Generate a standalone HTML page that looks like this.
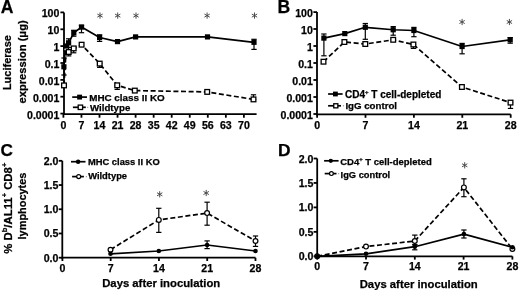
<!DOCTYPE html>
<html><head><meta charset="utf-8"><style>
html,body{margin:0;padding:0;background:#fff;overflow:hidden;width:520px;height:290px;}
svg{display:block;will-change:transform;}
text{font-family:"Liberation Sans", sans-serif;font-weight:bold;fill:#000;stroke:#000;stroke-width:0.25px;}
</style></head><body>
<svg width="520" height="290" viewBox="0 0 520 290">
<rect width="520" height="290" fill="#fff"/>
<text x="0.80" y="13.40" font-size="17.6" text-anchor="start">A</text>
<line x1="64.00" y1="12.40" x2="64.00" y2="115.10" stroke="#000" stroke-width="1.8"/>
<line x1="60.40" y1="12.40" x2="64.00" y2="12.40" stroke="#000" stroke-width="1.8"/>
<text x="59.40" y="17.40" font-size="10.6" text-anchor="end">100</text>
<line x1="60.40" y1="29.30" x2="64.00" y2="29.30" stroke="#000" stroke-width="1.8"/>
<text x="59.40" y="34.30" font-size="10.6" text-anchor="end">10</text>
<line x1="60.40" y1="46.10" x2="64.00" y2="46.10" stroke="#000" stroke-width="1.8"/>
<text x="59.40" y="51.10" font-size="10.6" text-anchor="end">1</text>
<line x1="60.40" y1="63.00" x2="64.00" y2="63.00" stroke="#000" stroke-width="1.8"/>
<text x="59.40" y="68.00" font-size="10.6" text-anchor="end">0.1</text>
<line x1="60.40" y1="79.90" x2="64.00" y2="79.90" stroke="#000" stroke-width="1.8"/>
<text x="59.40" y="84.90" font-size="10.6" text-anchor="end">0.01</text>
<line x1="60.40" y1="96.70" x2="64.00" y2="96.70" stroke="#000" stroke-width="1.8"/>
<text x="59.40" y="101.70" font-size="10.6" text-anchor="end">0.001</text>
<line x1="60.40" y1="113.60" x2="64.00" y2="113.60" stroke="#000" stroke-width="1.8"/>
<text x="59.40" y="118.60" font-size="10.6" text-anchor="end">0.0001</text>
<line x1="63.10" y1="114.20" x2="256.60" y2="114.20" stroke="#000" stroke-width="1.8"/>
<line x1="63.40" y1="114.20" x2="63.40" y2="117.70" stroke="#000" stroke-width="1.8"/>
<text x="63.40" y="129.30" font-size="10.6" text-anchor="middle">0</text>
<line x1="81.45" y1="114.20" x2="81.45" y2="117.70" stroke="#000" stroke-width="1.8"/>
<text x="81.45" y="129.30" font-size="10.6" text-anchor="middle">7</text>
<line x1="99.50" y1="114.20" x2="99.50" y2="117.70" stroke="#000" stroke-width="1.8"/>
<text x="99.50" y="129.30" font-size="10.6" text-anchor="middle">14</text>
<line x1="117.55" y1="114.20" x2="117.55" y2="117.70" stroke="#000" stroke-width="1.8"/>
<text x="117.55" y="129.30" font-size="10.6" text-anchor="middle">21</text>
<line x1="135.60" y1="114.20" x2="135.60" y2="117.70" stroke="#000" stroke-width="1.8"/>
<text x="135.60" y="129.30" font-size="10.6" text-anchor="middle">28</text>
<line x1="153.65" y1="114.20" x2="153.65" y2="117.70" stroke="#000" stroke-width="1.8"/>
<text x="153.65" y="129.30" font-size="10.6" text-anchor="middle">35</text>
<line x1="171.70" y1="114.20" x2="171.70" y2="117.70" stroke="#000" stroke-width="1.8"/>
<text x="171.70" y="129.30" font-size="10.6" text-anchor="middle">42</text>
<line x1="189.75" y1="114.20" x2="189.75" y2="117.70" stroke="#000" stroke-width="1.8"/>
<text x="189.75" y="129.30" font-size="10.6" text-anchor="middle">49</text>
<line x1="207.80" y1="114.20" x2="207.80" y2="117.70" stroke="#000" stroke-width="1.8"/>
<text x="207.80" y="129.30" font-size="10.6" text-anchor="middle">56</text>
<line x1="225.85" y1="114.20" x2="225.85" y2="117.70" stroke="#000" stroke-width="1.8"/>
<text x="225.85" y="129.30" font-size="10.6" text-anchor="middle">63</text>
<line x1="243.90" y1="114.20" x2="243.90" y2="117.70" stroke="#000" stroke-width="1.8"/>
<text x="243.90" y="129.30" font-size="10.6" text-anchor="middle">70</text>
<text transform="translate(10.6,62.6) rotate(-90)" font-size="11" text-anchor="middle">Luciferase</text>
<text transform="translate(25.8,61.9) rotate(-90)" font-size="11.2" text-anchor="middle">expression (μg)</text>
<polyline points="64.00,85.40 66.20,48.50 68.70,52.00 73.70,48.40 81.60,44.70 99.70,63.60 117.20,85.30 134.80,90.60 207.20,91.90 253.50,99.40" fill="none" stroke="#000" stroke-width="1.7" stroke-linejoin="round" stroke-dasharray="5,2.6"/>
<polyline points="63.90,66.80 65.60,46.00 68.60,42.80 73.80,32.80 81.50,27.10 99.60,37.50 117.50,41.60 135.60,36.90 207.50,36.90 254.00,42.30" fill="none" stroke="#000" stroke-width="1.7" stroke-linejoin="round"/>
<line x1="81.50" y1="25.30" x2="81.50" y2="32.70" stroke="#000" stroke-width="1.2"/>
<line x1="78.85" y1="25.30" x2="84.15" y2="25.30" stroke="#000" stroke-width="1.2"/>
<line x1="78.85" y1="32.70" x2="84.15" y2="32.70" stroke="#000" stroke-width="1.2"/>
<line x1="73.80" y1="30.30" x2="73.80" y2="36.20" stroke="#000" stroke-width="1.2"/>
<line x1="71.15" y1="30.30" x2="76.45" y2="30.30" stroke="#000" stroke-width="1.2"/>
<line x1="71.15" y1="36.20" x2="76.45" y2="36.20" stroke="#000" stroke-width="1.2"/>
<line x1="99.60" y1="34.80" x2="99.60" y2="41.40" stroke="#000" stroke-width="1.2"/>
<line x1="96.95" y1="34.80" x2="102.25" y2="34.80" stroke="#000" stroke-width="1.2"/>
<line x1="96.95" y1="41.40" x2="102.25" y2="41.40" stroke="#000" stroke-width="1.2"/>
<line x1="254.00" y1="39.30" x2="254.00" y2="49.40" stroke="#000" stroke-width="1.2"/>
<line x1="251.35" y1="39.30" x2="256.65" y2="39.30" stroke="#000" stroke-width="1.2"/>
<line x1="251.35" y1="49.40" x2="256.65" y2="49.40" stroke="#000" stroke-width="1.2"/>
<line x1="253.50" y1="94.80" x2="253.50" y2="99.40" stroke="#000" stroke-width="1.2"/>
<line x1="250.85" y1="94.80" x2="256.15" y2="94.80" stroke="#000" stroke-width="1.2"/>
<line x1="250.85" y1="99.40" x2="256.15" y2="99.40" stroke="#000" stroke-width="1.2"/>
<line x1="117.20" y1="85.30" x2="117.20" y2="89.40" stroke="#000" stroke-width="1.2"/>
<line x1="114.55" y1="85.30" x2="119.85" y2="85.30" stroke="#000" stroke-width="1.2"/>
<line x1="114.55" y1="89.40" x2="119.85" y2="89.40" stroke="#000" stroke-width="1.2"/>
<line x1="99.70" y1="63.60" x2="99.70" y2="67.40" stroke="#000" stroke-width="1.2"/>
<line x1="97.05" y1="63.60" x2="102.35" y2="63.60" stroke="#000" stroke-width="1.2"/>
<line x1="97.05" y1="67.40" x2="102.35" y2="67.40" stroke="#000" stroke-width="1.2"/>
<line x1="68.70" y1="52.00" x2="68.70" y2="55.90" stroke="#000" stroke-width="1.2"/>
<line x1="66.05" y1="52.00" x2="71.35" y2="52.00" stroke="#000" stroke-width="1.2"/>
<line x1="66.05" y1="55.90" x2="71.35" y2="55.90" stroke="#000" stroke-width="1.2"/>
<line x1="68.60" y1="38.80" x2="68.60" y2="47.50" stroke="#000" stroke-width="1.2"/>
<line x1="65.95" y1="38.80" x2="71.25" y2="38.80" stroke="#000" stroke-width="1.2"/>
<line x1="65.95" y1="47.50" x2="71.25" y2="47.50" stroke="#000" stroke-width="1.2"/>
<line x1="73.70" y1="48.40" x2="73.70" y2="52.80" stroke="#000" stroke-width="1.2"/>
<line x1="71.05" y1="48.40" x2="76.35" y2="48.40" stroke="#000" stroke-width="1.2"/>
<line x1="71.05" y1="52.80" x2="76.35" y2="52.80" stroke="#000" stroke-width="1.2"/>
<line x1="64.00" y1="58.00" x2="64.00" y2="75.00" stroke="#000" stroke-width="1.2"/>
<line x1="61.35" y1="58.00" x2="66.65" y2="58.00" stroke="#000" stroke-width="1.2"/>
<line x1="61.35" y1="75.00" x2="66.65" y2="75.00" stroke="#000" stroke-width="1.2"/>
<rect x="61.65" y="83.05" width="4.70" height="4.70" fill="#fff" stroke="#000" stroke-width="1.3"/>
<rect x="63.85" y="46.15" width="4.70" height="4.70" fill="#fff" stroke="#000" stroke-width="1.3"/>
<rect x="66.35" y="49.65" width="4.70" height="4.70" fill="#fff" stroke="#000" stroke-width="1.3"/>
<rect x="71.35" y="46.05" width="4.70" height="4.70" fill="#fff" stroke="#000" stroke-width="1.3"/>
<rect x="79.25" y="42.35" width="4.70" height="4.70" fill="#fff" stroke="#000" stroke-width="1.3"/>
<rect x="97.35" y="61.25" width="4.70" height="4.70" fill="#fff" stroke="#000" stroke-width="1.3"/>
<rect x="114.85" y="82.95" width="4.70" height="4.70" fill="#fff" stroke="#000" stroke-width="1.3"/>
<rect x="132.45" y="88.25" width="4.70" height="4.70" fill="#fff" stroke="#000" stroke-width="1.3"/>
<rect x="204.85" y="89.55" width="4.70" height="4.70" fill="#fff" stroke="#000" stroke-width="1.3"/>
<rect x="251.15" y="97.05" width="4.70" height="4.70" fill="#fff" stroke="#000" stroke-width="1.3"/>
<rect x="61.30" y="64.20" width="5.2" height="5.2" fill="#000"/>
<rect x="63.00" y="43.40" width="5.2" height="5.2" fill="#000"/>
<rect x="66.00" y="40.20" width="5.2" height="5.2" fill="#000"/>
<rect x="71.20" y="30.20" width="5.2" height="5.2" fill="#000"/>
<rect x="78.90" y="24.50" width="5.2" height="5.2" fill="#000"/>
<rect x="97.00" y="34.90" width="5.2" height="5.2" fill="#000"/>
<rect x="114.90" y="39.00" width="5.2" height="5.2" fill="#000"/>
<rect x="133.00" y="34.30" width="5.2" height="5.2" fill="#000"/>
<rect x="204.90" y="34.30" width="5.2" height="5.2" fill="#000"/>
<rect x="251.40" y="39.70" width="5.2" height="5.2" fill="#000"/>
<line x1="100.00" y1="12.50" x2="100.00" y2="18.70" stroke="#444" stroke-width="0.95"/>
<line x1="97.32" y1="14.05" x2="102.68" y2="17.15" stroke="#444" stroke-width="0.95"/>
<line x1="97.32" y1="17.15" x2="102.68" y2="14.05" stroke="#444" stroke-width="0.95"/>
<line x1="117.70" y1="12.50" x2="117.70" y2="18.70" stroke="#444" stroke-width="0.95"/>
<line x1="115.02" y1="14.05" x2="120.38" y2="17.15" stroke="#444" stroke-width="0.95"/>
<line x1="115.02" y1="17.15" x2="120.38" y2="14.05" stroke="#444" stroke-width="0.95"/>
<line x1="136.00" y1="12.50" x2="136.00" y2="18.70" stroke="#444" stroke-width="0.95"/>
<line x1="133.32" y1="14.05" x2="138.68" y2="17.15" stroke="#444" stroke-width="0.95"/>
<line x1="133.32" y1="17.15" x2="138.68" y2="14.05" stroke="#444" stroke-width="0.95"/>
<line x1="207.10" y1="12.50" x2="207.10" y2="18.70" stroke="#444" stroke-width="0.95"/>
<line x1="204.42" y1="14.05" x2="209.78" y2="17.15" stroke="#444" stroke-width="0.95"/>
<line x1="204.42" y1="17.15" x2="209.78" y2="14.05" stroke="#444" stroke-width="0.95"/>
<line x1="254.50" y1="12.50" x2="254.50" y2="18.70" stroke="#444" stroke-width="0.95"/>
<line x1="251.82" y1="14.05" x2="257.18" y2="17.15" stroke="#444" stroke-width="0.95"/>
<line x1="251.82" y1="17.15" x2="257.18" y2="14.05" stroke="#444" stroke-width="0.95"/>
<line x1="72.20" y1="97.10" x2="87.00" y2="97.10" stroke="#000" stroke-width="1.7"/>
<rect x="77.15" y="94.65" width="4.9" height="4.9" fill="#000"/>
<text x="89.20" y="101.00" font-size="9.85" text-anchor="start">MHC class II KO</text>
<line x1="72.90" y1="107.30" x2="85.80" y2="107.30" stroke="#000" stroke-width="1.7"/>
<line x1="87.15" y1="107.30" x2="88.25" y2="107.30" stroke="#999" stroke-width="1.2"/>
<rect x="78.20" y="105.10" width="4.40" height="4.40" fill="#fff" stroke="#000" stroke-width="1.3"/>
<text x="90.00" y="111.20" font-size="9.7" text-anchor="start">Wildtype</text>
<text x="277.40" y="13.30" font-size="17.6" text-anchor="start">B</text>
<line x1="317.00" y1="12.10" x2="317.00" y2="115.20" stroke="#000" stroke-width="1.8"/>
<line x1="313.40" y1="12.10" x2="317.00" y2="12.10" stroke="#000" stroke-width="1.8"/>
<text x="312.90" y="16.90" font-size="10.6" text-anchor="end">100</text>
<line x1="313.40" y1="29.00" x2="317.00" y2="29.00" stroke="#000" stroke-width="1.8"/>
<text x="312.90" y="33.80" font-size="10.6" text-anchor="end">10</text>
<line x1="313.40" y1="46.00" x2="317.00" y2="46.00" stroke="#000" stroke-width="1.8"/>
<text x="312.90" y="50.80" font-size="10.6" text-anchor="end">1</text>
<line x1="313.40" y1="63.00" x2="317.00" y2="63.00" stroke="#000" stroke-width="1.8"/>
<text x="312.90" y="67.80" font-size="10.6" text-anchor="end">0.1</text>
<line x1="313.40" y1="80.00" x2="317.00" y2="80.00" stroke="#000" stroke-width="1.8"/>
<text x="312.90" y="84.80" font-size="10.6" text-anchor="end">0.01</text>
<line x1="313.40" y1="97.00" x2="317.00" y2="97.00" stroke="#000" stroke-width="1.8"/>
<text x="312.90" y="101.80" font-size="10.6" text-anchor="end">0.001</text>
<line x1="313.40" y1="114.00" x2="317.00" y2="114.00" stroke="#000" stroke-width="1.8"/>
<text x="312.90" y="118.80" font-size="10.6" text-anchor="end">0.0001</text>
<line x1="316.10" y1="114.30" x2="510.70" y2="114.30" stroke="#000" stroke-width="1.8"/>
<line x1="317.10" y1="114.30" x2="317.10" y2="117.80" stroke="#000" stroke-width="1.8"/>
<text x="317.10" y="129.30" font-size="10.6" text-anchor="middle">0</text>
<line x1="365.50" y1="114.30" x2="365.50" y2="117.80" stroke="#000" stroke-width="1.8"/>
<text x="365.50" y="129.30" font-size="10.6" text-anchor="middle">7</text>
<line x1="413.90" y1="114.30" x2="413.90" y2="117.80" stroke="#000" stroke-width="1.8"/>
<text x="413.90" y="129.30" font-size="10.6" text-anchor="middle">14</text>
<line x1="462.30" y1="114.30" x2="462.30" y2="117.80" stroke="#000" stroke-width="1.8"/>
<text x="462.30" y="129.30" font-size="10.6" text-anchor="middle">21</text>
<line x1="510.70" y1="114.30" x2="510.70" y2="117.80" stroke="#000" stroke-width="1.8"/>
<text x="510.70" y="129.30" font-size="10.6" text-anchor="middle">28</text>
<polyline points="323.50,61.70 344.40,42.00 365.30,44.00 393.20,39.80 413.40,44.50 461.90,87.00 510.50,102.60" fill="none" stroke="#000" stroke-width="1.7" stroke-linejoin="round" stroke-dasharray="5,2.6"/>
<polyline points="323.90,38.10 344.80,33.60 365.30,27.30 393.20,29.75 413.90,30.50 462.10,46.50 510.20,39.80" fill="none" stroke="#000" stroke-width="1.7" stroke-linejoin="round"/>
<line x1="323.90" y1="34.00" x2="323.90" y2="55.80" stroke="#000" stroke-width="1.2"/>
<line x1="321.25" y1="34.00" x2="326.55" y2="34.00" stroke="#000" stroke-width="1.2"/>
<line x1="321.25" y1="55.80" x2="326.55" y2="55.80" stroke="#000" stroke-width="1.2"/>
<line x1="365.30" y1="23.50" x2="365.30" y2="39.30" stroke="#000" stroke-width="1.2"/>
<line x1="362.65" y1="23.50" x2="367.95" y2="23.50" stroke="#000" stroke-width="1.2"/>
<line x1="362.65" y1="39.30" x2="367.95" y2="39.30" stroke="#000" stroke-width="1.2"/>
<line x1="393.20" y1="26.60" x2="393.20" y2="35.20" stroke="#000" stroke-width="1.2"/>
<line x1="390.55" y1="26.60" x2="395.85" y2="26.60" stroke="#000" stroke-width="1.2"/>
<line x1="390.55" y1="35.20" x2="395.85" y2="35.20" stroke="#000" stroke-width="1.2"/>
<line x1="413.90" y1="27.40" x2="413.90" y2="36.70" stroke="#000" stroke-width="1.2"/>
<line x1="411.25" y1="27.40" x2="416.55" y2="27.40" stroke="#000" stroke-width="1.2"/>
<line x1="411.25" y1="36.70" x2="416.55" y2="36.70" stroke="#000" stroke-width="1.2"/>
<line x1="462.10" y1="43.40" x2="462.10" y2="53.80" stroke="#000" stroke-width="1.2"/>
<line x1="459.45" y1="43.40" x2="464.75" y2="43.40" stroke="#000" stroke-width="1.2"/>
<line x1="459.45" y1="53.80" x2="464.75" y2="53.80" stroke="#000" stroke-width="1.2"/>
<line x1="510.20" y1="37.60" x2="510.20" y2="43.20" stroke="#000" stroke-width="1.2"/>
<line x1="507.55" y1="37.60" x2="512.85" y2="37.60" stroke="#000" stroke-width="1.2"/>
<line x1="507.55" y1="43.20" x2="512.85" y2="43.20" stroke="#000" stroke-width="1.2"/>
<line x1="510.50" y1="102.60" x2="510.50" y2="108.40" stroke="#000" stroke-width="1.2"/>
<line x1="507.85" y1="102.60" x2="513.15" y2="102.60" stroke="#000" stroke-width="1.2"/>
<line x1="507.85" y1="108.40" x2="513.15" y2="108.40" stroke="#000" stroke-width="1.2"/>
<line x1="413.40" y1="44.50" x2="413.40" y2="48.40" stroke="#000" stroke-width="1.2"/>
<line x1="410.75" y1="44.50" x2="416.05" y2="44.50" stroke="#000" stroke-width="1.2"/>
<line x1="410.75" y1="48.40" x2="416.05" y2="48.40" stroke="#000" stroke-width="1.2"/>
<rect x="321.15" y="59.35" width="4.70" height="4.70" fill="#fff" stroke="#000" stroke-width="1.3"/>
<rect x="342.05" y="39.65" width="4.70" height="4.70" fill="#fff" stroke="#000" stroke-width="1.3"/>
<rect x="362.95" y="41.65" width="4.70" height="4.70" fill="#fff" stroke="#000" stroke-width="1.3"/>
<rect x="390.85" y="37.45" width="4.70" height="4.70" fill="#fff" stroke="#000" stroke-width="1.3"/>
<rect x="411.05" y="42.15" width="4.70" height="4.70" fill="#fff" stroke="#000" stroke-width="1.3"/>
<rect x="459.55" y="84.65" width="4.70" height="4.70" fill="#fff" stroke="#000" stroke-width="1.3"/>
<rect x="508.15" y="100.25" width="4.70" height="4.70" fill="#fff" stroke="#000" stroke-width="1.3"/>
<rect x="321.30" y="35.50" width="5.2" height="5.2" fill="#000"/>
<rect x="342.20" y="31.00" width="5.2" height="5.2" fill="#000"/>
<rect x="362.70" y="24.70" width="5.2" height="5.2" fill="#000"/>
<rect x="390.60" y="27.15" width="5.2" height="5.2" fill="#000"/>
<rect x="411.30" y="27.90" width="5.2" height="5.2" fill="#000"/>
<rect x="459.50" y="43.90" width="5.2" height="5.2" fill="#000"/>
<rect x="507.60" y="37.20" width="5.2" height="5.2" fill="#000"/>
<line x1="462.10" y1="18.90" x2="462.10" y2="25.10" stroke="#444" stroke-width="0.95"/>
<line x1="459.42" y1="20.45" x2="464.78" y2="23.55" stroke="#444" stroke-width="0.95"/>
<line x1="459.42" y1="23.55" x2="464.78" y2="20.45" stroke="#444" stroke-width="0.95"/>
<line x1="509.40" y1="18.90" x2="509.40" y2="25.10" stroke="#444" stroke-width="0.95"/>
<line x1="506.72" y1="20.45" x2="512.08" y2="23.55" stroke="#444" stroke-width="0.95"/>
<line x1="506.72" y1="23.55" x2="512.08" y2="20.45" stroke="#444" stroke-width="0.95"/>
<line x1="328.10" y1="94.00" x2="342.60" y2="94.00" stroke="#000" stroke-width="1.7"/>
<rect x="333.00" y="91.60" width="4.8" height="4.8" fill="#000"/>
<text x="345.00" y="97.90" font-size="10" text-anchor="start">CD4<tspan font-size="6" dy="-4.3">+</tspan><tspan dy="4.3"> T cell-depleted</tspan></text>
<line x1="328.10" y1="105.80" x2="341.00" y2="105.80" stroke="#000" stroke-width="1.7"/>
<line x1="342.95" y1="105.80" x2="344.05" y2="105.80" stroke="#999" stroke-width="1.2"/>
<rect x="333.75" y="103.75" width="4.10" height="4.10" fill="#fff" stroke="#000" stroke-width="1.3"/>
<text x="345.40" y="109.40" font-size="9.7" text-anchor="start">IgG control</text>
<text x="0.40" y="156.00" font-size="17.2" text-anchor="start">C</text>
<line x1="62.30" y1="160.80" x2="62.30" y2="258.60" stroke="#000" stroke-width="1.8"/>
<line x1="58.70" y1="257.70" x2="62.30" y2="257.70" stroke="#000" stroke-width="1.8"/>
<text x="58.40" y="261.70" font-size="10.6" text-anchor="end">0.0</text>
<line x1="58.70" y1="233.48" x2="62.30" y2="233.48" stroke="#000" stroke-width="1.8"/>
<text x="58.40" y="237.48" font-size="10.6" text-anchor="end">0.5</text>
<line x1="58.70" y1="209.26" x2="62.30" y2="209.26" stroke="#000" stroke-width="1.8"/>
<text x="58.40" y="213.26" font-size="10.6" text-anchor="end">1.0</text>
<line x1="58.70" y1="185.04" x2="62.30" y2="185.04" stroke="#000" stroke-width="1.8"/>
<text x="58.40" y="189.04" font-size="10.6" text-anchor="end">1.5</text>
<line x1="58.70" y1="160.82" x2="62.30" y2="160.82" stroke="#000" stroke-width="1.8"/>
<text x="58.40" y="164.82" font-size="10.6" text-anchor="end">2.0</text>
<line x1="61.40" y1="257.70" x2="255.50" y2="257.70" stroke="#000" stroke-width="1.8"/>
<line x1="62.40" y1="257.70" x2="62.40" y2="261.00" stroke="#000" stroke-width="1.8"/>
<text x="62.40" y="271.80" font-size="10.6" text-anchor="middle">0</text>
<line x1="110.67" y1="257.70" x2="110.67" y2="261.00" stroke="#000" stroke-width="1.8"/>
<text x="110.67" y="271.80" font-size="10.6" text-anchor="middle">7</text>
<line x1="158.94" y1="257.70" x2="158.94" y2="261.00" stroke="#000" stroke-width="1.8"/>
<text x="158.94" y="271.80" font-size="10.6" text-anchor="middle">14</text>
<line x1="207.21" y1="257.70" x2="207.21" y2="261.00" stroke="#000" stroke-width="1.8"/>
<text x="207.21" y="271.80" font-size="10.6" text-anchor="middle">21</text>
<line x1="255.48" y1="257.70" x2="255.48" y2="261.00" stroke="#000" stroke-width="1.8"/>
<text x="255.48" y="271.80" font-size="10.6" text-anchor="middle">28</text>
<text transform="translate(11.8,208.2) rotate(-90)" font-size="11.35" text-anchor="middle">% D<tspan font-size="7.5" dy="-5">b</tspan><tspan dy="5">/AL11</tspan><tspan font-size="7.5" dy="-5">+</tspan><tspan dy="5"> CD8</tspan><tspan font-size="7.5" dy="-5">+</tspan></text>
<text transform="translate(25.5,206.0) rotate(-90)" font-size="10.95" text-anchor="middle">lymphocytes</text>
<text x="102.20" y="287.40" font-size="11.3" text-anchor="start">Days after inoculation</text>
<polyline points="110.50,249.70 158.80,219.90 207.10,213.10 255.50,241.00" fill="none" stroke="#000" stroke-width="1.7" stroke-linejoin="round" stroke-dasharray="5,2.6"/>
<polyline points="110.50,253.80 158.80,251.00 207.10,245.00 255.50,251.00" fill="none" stroke="#000" stroke-width="1.7" stroke-linejoin="round"/>
<line x1="158.80" y1="208.30" x2="158.80" y2="232.40" stroke="#000" stroke-width="1.2"/>
<line x1="156.15" y1="208.30" x2="161.45" y2="208.30" stroke="#000" stroke-width="1.2"/>
<line x1="156.15" y1="232.40" x2="161.45" y2="232.40" stroke="#000" stroke-width="1.2"/>
<line x1="207.10" y1="202.20" x2="207.10" y2="225.20" stroke="#000" stroke-width="1.2"/>
<line x1="204.45" y1="202.20" x2="209.75" y2="202.20" stroke="#000" stroke-width="1.2"/>
<line x1="204.45" y1="225.20" x2="209.75" y2="225.20" stroke="#000" stroke-width="1.2"/>
<line x1="255.50" y1="236.00" x2="255.50" y2="246.40" stroke="#000" stroke-width="1.2"/>
<line x1="252.85" y1="236.00" x2="258.15" y2="236.00" stroke="#000" stroke-width="1.2"/>
<line x1="252.85" y1="246.40" x2="258.15" y2="246.40" stroke="#000" stroke-width="1.2"/>
<line x1="207.10" y1="240.90" x2="207.10" y2="248.60" stroke="#000" stroke-width="1.2"/>
<line x1="204.45" y1="240.90" x2="209.75" y2="240.90" stroke="#000" stroke-width="1.2"/>
<line x1="204.45" y1="248.60" x2="209.75" y2="248.60" stroke="#000" stroke-width="1.2"/>
<circle cx="110.50" cy="249.70" r="2.4" fill="#fff" stroke="#000" stroke-width="1.2"/>
<circle cx="158.80" cy="219.90" r="2.4" fill="#fff" stroke="#000" stroke-width="1.2"/>
<circle cx="207.10" cy="213.10" r="2.4" fill="#fff" stroke="#000" stroke-width="1.2"/>
<circle cx="255.50" cy="241.00" r="2.4" fill="#fff" stroke="#000" stroke-width="1.2"/>
<circle cx="110.50" cy="253.80" r="2.3" fill="#000"/>
<circle cx="158.80" cy="251.00" r="2.3" fill="#000"/>
<circle cx="207.10" cy="245.00" r="2.3" fill="#000"/>
<circle cx="255.50" cy="251.00" r="2.3" fill="#000"/>
<line x1="159.70" y1="191.20" x2="159.70" y2="197.40" stroke="#444" stroke-width="0.95"/>
<line x1="157.02" y1="192.75" x2="162.38" y2="195.85" stroke="#444" stroke-width="0.95"/>
<line x1="157.02" y1="195.85" x2="162.38" y2="192.75" stroke="#444" stroke-width="0.95"/>
<line x1="206.20" y1="189.90" x2="206.20" y2="196.10" stroke="#444" stroke-width="0.95"/>
<line x1="203.52" y1="191.45" x2="208.88" y2="194.55" stroke="#444" stroke-width="0.95"/>
<line x1="203.52" y1="194.55" x2="208.88" y2="191.45" stroke="#444" stroke-width="0.95"/>
<line x1="71.00" y1="161.70" x2="85.50" y2="161.70" stroke="#000" stroke-width="1.7"/>
<circle cx="78.10" cy="161.70" r="2.25" fill="#000"/>
<text x="88.00" y="165.10" font-size="9.35" text-anchor="start">MHC class II KO</text>
<line x1="72.10" y1="176.60" x2="83.90" y2="176.60" stroke="#000" stroke-width="1.7"/>
<line x1="85.85" y1="176.60" x2="86.95" y2="176.60" stroke="#999" stroke-width="1.2"/>
<circle cx="78.70" cy="176.60" r="2.0" fill="#fff" stroke="#000" stroke-width="1.2"/>
<text x="88.20" y="179.20" font-size="9.35" text-anchor="start">Wildtype</text>
<text x="278.00" y="156.20" font-size="17.4" text-anchor="start">D</text>
<line x1="317.20" y1="158.50" x2="317.20" y2="257.20" stroke="#000" stroke-width="1.8"/>
<line x1="313.60" y1="256.30" x2="317.20" y2="256.30" stroke="#000" stroke-width="1.8"/>
<text x="313.40" y="260.30" font-size="10.6" text-anchor="end">0.0</text>
<line x1="313.60" y1="231.85" x2="317.20" y2="231.85" stroke="#000" stroke-width="1.8"/>
<text x="313.40" y="235.85" font-size="10.6" text-anchor="end">0.5</text>
<line x1="313.60" y1="207.40" x2="317.20" y2="207.40" stroke="#000" stroke-width="1.8"/>
<text x="313.40" y="211.40" font-size="10.6" text-anchor="end">1.0</text>
<line x1="313.60" y1="182.95" x2="317.20" y2="182.95" stroke="#000" stroke-width="1.8"/>
<text x="313.40" y="186.95" font-size="10.6" text-anchor="end">1.5</text>
<line x1="313.60" y1="158.50" x2="317.20" y2="158.50" stroke="#000" stroke-width="1.8"/>
<text x="313.40" y="162.50" font-size="10.6" text-anchor="end">2.0</text>
<line x1="316.30" y1="256.30" x2="512.40" y2="256.30" stroke="#000" stroke-width="1.8"/>
<line x1="317.20" y1="256.30" x2="317.20" y2="259.60" stroke="#000" stroke-width="1.8"/>
<text x="317.20" y="270.40" font-size="10.6" text-anchor="middle">0</text>
<line x1="366.00" y1="256.30" x2="366.00" y2="259.60" stroke="#000" stroke-width="1.8"/>
<text x="366.00" y="270.40" font-size="10.6" text-anchor="middle">7</text>
<line x1="414.80" y1="256.30" x2="414.80" y2="259.60" stroke="#000" stroke-width="1.8"/>
<text x="414.80" y="270.40" font-size="10.6" text-anchor="middle">14</text>
<line x1="463.60" y1="256.30" x2="463.60" y2="259.60" stroke="#000" stroke-width="1.8"/>
<text x="463.60" y="270.40" font-size="10.6" text-anchor="middle">21</text>
<line x1="512.40" y1="256.30" x2="512.40" y2="259.60" stroke="#000" stroke-width="1.8"/>
<text x="512.40" y="270.40" font-size="10.6" text-anchor="middle">28</text>
<text x="359.70" y="287.80" font-size="11.3" text-anchor="start">Days after inoculation</text>
<polyline points="317.20,256.30 366.00,246.60 414.80,241.00 463.90,187.40 512.40,249.00" fill="none" stroke="#000" stroke-width="1.7" stroke-linejoin="round" stroke-dasharray="5,2.6"/>
<polyline points="317.20,256.30 366.00,253.80 414.80,246.70 463.90,234.10 512.40,247.20" fill="none" stroke="#000" stroke-width="1.7" stroke-linejoin="round"/>
<line x1="463.90" y1="178.80" x2="463.90" y2="196.70" stroke="#000" stroke-width="1.2"/>
<line x1="461.25" y1="178.80" x2="466.55" y2="178.80" stroke="#000" stroke-width="1.2"/>
<line x1="461.25" y1="196.70" x2="466.55" y2="196.70" stroke="#000" stroke-width="1.2"/>
<line x1="463.90" y1="230.00" x2="463.90" y2="238.00" stroke="#000" stroke-width="1.2"/>
<line x1="461.25" y1="230.00" x2="466.55" y2="230.00" stroke="#000" stroke-width="1.2"/>
<line x1="461.25" y1="238.00" x2="466.55" y2="238.00" stroke="#000" stroke-width="1.2"/>
<line x1="414.80" y1="235.10" x2="414.80" y2="244.80" stroke="#000" stroke-width="1.2"/>
<line x1="412.15" y1="235.10" x2="417.45" y2="235.10" stroke="#000" stroke-width="1.2"/>
<line x1="412.15" y1="244.80" x2="417.45" y2="244.80" stroke="#000" stroke-width="1.2"/>
<line x1="414.80" y1="244.80" x2="414.80" y2="249.80" stroke="#000" stroke-width="1.2"/>
<line x1="412.15" y1="244.80" x2="417.45" y2="244.80" stroke="#000" stroke-width="1.2"/>
<line x1="412.15" y1="249.80" x2="417.45" y2="249.80" stroke="#000" stroke-width="1.2"/>
<circle cx="317.20" cy="256.30" r="2.4" fill="#fff" stroke="#000" stroke-width="1.2"/>
<circle cx="366.00" cy="246.60" r="2.4" fill="#fff" stroke="#000" stroke-width="1.2"/>
<circle cx="414.80" cy="241.00" r="2.4" fill="#fff" stroke="#000" stroke-width="1.2"/>
<circle cx="463.90" cy="187.40" r="2.4" fill="#fff" stroke="#000" stroke-width="1.2"/>
<circle cx="512.40" cy="249.00" r="2.4" fill="#fff" stroke="#000" stroke-width="1.2"/>
<circle cx="317.20" cy="256.30" r="2.3" fill="#000"/>
<circle cx="366.00" cy="253.80" r="2.3" fill="#000"/>
<circle cx="414.80" cy="246.70" r="2.3" fill="#000"/>
<circle cx="463.90" cy="234.10" r="2.3" fill="#000"/>
<circle cx="512.40" cy="247.20" r="2.3" fill="#000"/>
<line x1="464.70" y1="162.20" x2="464.70" y2="168.40" stroke="#444" stroke-width="0.95"/>
<line x1="462.02" y1="163.75" x2="467.38" y2="166.85" stroke="#444" stroke-width="0.95"/>
<line x1="462.02" y1="166.85" x2="467.38" y2="163.75" stroke="#444" stroke-width="0.95"/>
<line x1="324.10" y1="160.80" x2="338.60" y2="160.80" stroke="#000" stroke-width="1.7"/>
<circle cx="330.80" cy="160.80" r="2.15" fill="#000"/>
<text x="340.20" y="165.00" font-size="9.5" text-anchor="start">CD4<tspan font-size="5.8" dy="-4.1">+</tspan><tspan dy="4.1"> T cell-depleted</tspan></text>
<line x1="324.70" y1="173.60" x2="336.50" y2="173.60" stroke="#000" stroke-width="1.7"/>
<line x1="338.05" y1="173.60" x2="339.15" y2="173.60" stroke="#999" stroke-width="1.2"/>
<circle cx="331.40" cy="173.60" r="1.9" fill="#fff" stroke="#000" stroke-width="1.2"/>
<text x="340.60" y="178.30" font-size="9.3" text-anchor="start">IgG control</text>
</svg>
</body></html>
